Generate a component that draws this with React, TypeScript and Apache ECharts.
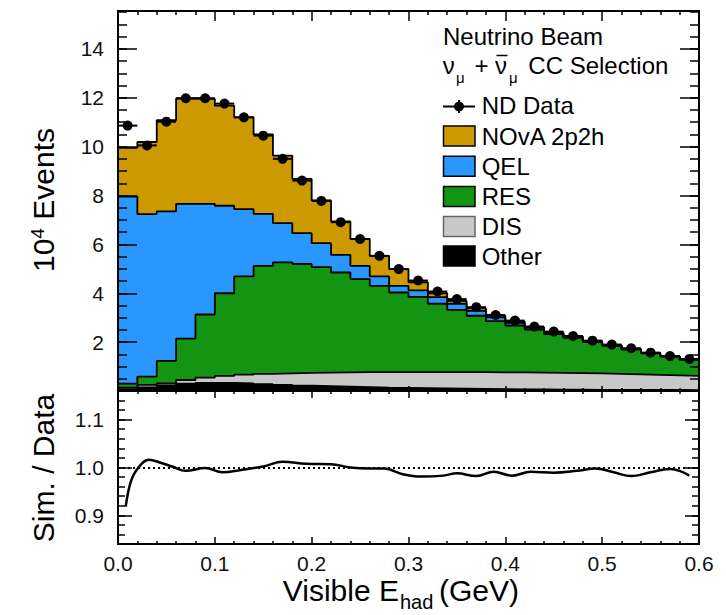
import React, { useEffect, useRef } from 'react';
import * as echarts from 'echarts';

// Bin centres of the visible hadronic energy histogram (GeV), 0.02 GeV wide bins
const binCenters = [
  0.01, 0.03, 0.05, 0.07, 0.09, 0.11, 0.13, 0.15, 0.17, 0.19,
  0.21, 0.23, 0.25, 0.27, 0.29, 0.31, 0.33, 0.35, 0.37, 0.39,
  0.41, 0.43, 0.45, 0.47, 0.49, 0.51, 0.53, 0.55, 0.57, 0.59,
];
const BIN_HALF = 0.01;

// ND data (10^4 events)
const ndData = [
  10.86, 10.05, 11.02, 11.98, 11.98, 11.76, 11.2, 10.45, 9.5, 8.61,
  7.78, 6.91, 6.22, 5.53, 4.99, 4.52, 4.07, 3.76, 3.43, 3.11,
  2.88, 2.64, 2.43, 2.25, 2.06, 1.9, 1.75, 1.57, 1.43, 1.31,
];

// Simulated interaction components (10^4 events), stacked bottom to top
const otherMC = [
  0.08, 0.15, 0.23, 0.3, 0.33, 0.33, 0.31, 0.28, 0.25, 0.22,
  0.2, 0.18, 0.16, 0.14, 0.13, 0.12, 0.11, 0.1, 0.09, 0.08,
  0.07, 0.07, 0.06, 0.06, 0.05, 0.05, 0.04, 0.04, 0.04, 0.03,
];
const disMC = [
  0.06, 0.1, 0.08, 0.15, 0.22, 0.29, 0.36, 0.42, 0.47, 0.52,
  0.55, 0.58, 0.61, 0.63, 0.64, 0.65, 0.66, 0.67, 0.68, 0.68,
  0.69, 0.68, 0.68, 0.67, 0.67, 0.65, 0.64, 0.62, 0.6, 0.59,
];
const resMC = [
  0.16, 0.34, 0.92, 1.69, 2.58, 3.38, 4.02, 4.42, 4.54, 4.46,
  4.32, 4.09, 3.81, 3.53, 3.26, 3.08, 2.8, 2.55, 2.31, 2.1,
  1.92, 1.76, 1.59, 1.44, 1.28, 1.15, 1.01, 0.88, 0.77, 0.66,
];
const qelMC = [
  7.65, 6.65, 6.12, 5.52, 4.53, 3.58, 2.75, 2.13, 1.61, 1.26,
  0.98, 0.72, 0.54, 0.39, 0.27, 0.27, 0.27, 0.25, 0.2, 0.15,
  0.11, 0.07, 0.05, 0.04, 0.03, 0.02, 0.02, 0.015, 0.01, 0.01,
];
const mecMC = [
  2.0, 2.95, 3.73, 4.31, 4.29, 4.1, 3.76, 3.25, 2.76, 2.22,
  1.75, 1.37, 1.1, 0.84, 0.69, 0.33, 0.16, 0.12, 0.1, 0.07,
  0.05, 0.03, 0.02, 0.02, 0.01, 0.01, 0.01, 0.005, 0.005, 0.005,
];

// Sim. / Data ratio curve
const ratioX = [
  0.008, 0.013, 0.02, 0.032, 0.044, 0.056, 0.07, 0.09, 0.108, 0.127,
  0.15, 0.17, 0.194, 0.22, 0.24, 0.26, 0.275, 0.294, 0.313, 0.336,
  0.35, 0.37, 0.388, 0.407, 0.426, 0.45, 0.474, 0.493, 0.512, 0.53,
  0.55, 0.57, 0.58, 0.59,
];
const ratioY = [
  0.918, 0.969, 0.997, 1.016, 1.01, 1.002, 0.993, 0.999, 0.99, 0.995,
  1.002, 1.012, 1.008, 1.007, 1.0, 0.998, 0.998, 0.986, 0.981, 0.983,
  0.988, 0.982, 0.991, 0.983, 0.991, 0.989, 0.993, 0.998, 0.99, 0.982,
  0.99, 0.997, 0.993, 0.983,
];

const xTickLabels = ['0.0', '0.1', '0.2', '0.3', '0.4', '0.5', '0.6'];
const yTopLabels = [2, 4, 6, 8, 10, 12, 14];
const yRatioLabels = ['0.9', '1.0', '1.1'];

const COLORS = {
  mec: '#cc9900',
  qel: '#2a97ff',
  res: '#139413',
  dis: '#c8c8c8',
  other: '#000000',
};

const FONT = "'Liberation Sans', Arial, Helvetica, sans-serif";

function cumulate(...layers: number[][]): number[] {
  return layers[0].map((_, i) => layers.reduce((s, l) => s + l[i], 0));
}

function stepPoints(vals: number[]): number[][] {
  const pts = binCenters.map((c, i) => [c - BIN_HALF, vals[i]]);
  const last = binCenters.length - 1;
  pts.push([binCenters[last] + BIN_HALF, vals[last]]);
  return pts;
}

const frameLine = { show: true, onZero: false, lineStyle: { color: '#000', width: 2 } };
const tickLine = { color: '#000', width: 1.5 };

function xAxis(gridIndex: number, position: string, labels: boolean, major: number, minor: number) {
  return {
    type: 'value', gridIndex, position, min: 0, max: 0.6, interval: 0.1, z: 10,
    axisLine: frameLine,
    axisTick: { show: true, inside: true, length: major, lineStyle: tickLine },
    minorTick: { show: true, splitNumber: 5, length: minor, lineStyle: tickLine },
    splitLine: { show: false },
    minorSplitLine: { show: false },
    axisLabel: labels
      ? {
          show: true, margin: 9, color: '#111', fontSize: 21, fontFamily: FONT,
          formatter: (v: number) => xTickLabels[Math.round(v * 10)] ?? '',
        }
      : { show: false },
  };
}

function yAxis(gridIndex: number, position: string, opts: any) {
  return {
    type: 'value', gridIndex, position, z: 10,
    axisLine: frameLine,
    splitLine: { show: false },
    minorSplitLine: { show: false },
    axisLabel: { show: false },
    ...opts,
  };
}

export default function App() {
  const ref = useRef<HTMLDivElement>(null);

  useEffect(() => {
    document.body.style.margin = '0';
    if (!ref.current) return;
    const chart = echarts.init(ref.current, undefined, { renderer: 'svg' });

    const cumOther = otherMC;
    const cumDis = cumulate(otherMC, disMC);
    const cumRes = cumulate(otherMC, disMC, resMC);
    const cumQel = cumulate(otherMC, disMC, resMC, qelMC);
    const cumAll = cumulate(otherMC, disMC, resMC, qelMC, mecMC);

    const stack = [
      { name: 'NOvA 2p2h', vals: cumAll, color: COLORS.mec },
      { name: 'QEL', vals: cumQel, color: COLORS.qel },
      { name: 'RES', vals: cumRes, color: COLORS.res },
      { name: 'DIS', vals: cumDis, color: COLORS.dis },
      { name: 'Other', vals: cumOther, color: COLORS.other },
    ];

    const TOP_MAX = 15.55;

    const topMajor = (position: string, labels: boolean) =>
      yAxis(0, position, {
        min: 0, max: TOP_MAX, interval: 2,
        axisTick: { show: true, inside: true, length: 19, lineStyle: tickLine },
        axisLabel: labels
          ? {
              show: true, margin: 14, color: '#111', fontSize: 21, fontFamily: FONT,
              formatter: (v: number) => (yTopLabels.includes(v) ? String(v) : ''),
            }
          : { show: false },
      });
    const topMinor = (position: string) =>
      yAxis(0, position, {
        min: 0, max: TOP_MAX, interval: 0.5,
        axisTick: { show: true, inside: true, length: 9, lineStyle: tickLine },
      });
    const ratioMajor = (position: string, labels: boolean) =>
      yAxis(1, position, {
        min: 0.84, max: 1.16, splitNumber: 3,
        axisTick: { show: true, inside: true, length: 14, lineStyle: tickLine },
        axisLabel: labels
          ? {
              show: true, margin: 14, color: '#111', fontSize: 21, fontFamily: FONT,
              showMinLabel: false, showMaxLabel: false,
              formatter: (v: number) => {
                const s = v.toFixed(1);
                return yRatioLabels.includes(s) && Math.abs(v - Number(s)) < 1e-6 ? s : '';
              },
            }
          : { show: false },
      });
    const ratioMinor = (position: string) =>
      yAxis(1, position, {
        min: 0.84, max: 1.16, interval: 0.02,
        axisTick: { show: true, inside: true, length: 7, lineStyle: tickLine },
      });

    const legendRows = [
      { label: 'NOvA 2p2h', color: COLORS.mec, stroke: '#000', y: 136 },
      { label: 'QEL', color: COLORS.qel, stroke: '#000', y: 166.3 },
      { label: 'RES', color: COLORS.res, stroke: '#000', y: 196.5 },
      { label: 'DIS', color: COLORS.dis, stroke: '#666', y: 226.5 },
      { label: 'Other', color: COLORS.other, stroke: '#000', y: 256 },
    ];

    const txt = (text: string, x: number, y: number, size: number, extra: any = {}) => ({
      type: 'text', x, y, silent: true,
      style: { text, fill: '#000', font: `${size}px ${FONT}`, align: 'left', verticalAlign: 'middle', ...extra },
    });

    const graphics: any[] = [
      // header
      txt('Neutrino Beam', 443, 36.5, 24),
      txt('ν', 442.7, 65, 24),
      txt('μ', 456, 77, 15),
      txt('+', 474.5, 65, 24),
      txt('ν', 495, 65, 24),
      { type: 'line', silent: true, shape: { x1: 496.5, y1: 55.5, x2: 507.5, y2: 55.5 }, style: { stroke: '#000', lineWidth: 1.5 } },
      txt('μ', 509, 77, 15),
      txt('CC Selection', 528.3, 65, 24),
      // data marker entry
      { type: 'line', silent: true, shape: { x1: 443, y1: 106.5, x2: 475, y2: 106.5 }, style: { stroke: '#000', lineWidth: 2 } },
      { type: 'line', silent: true, shape: { x1: 459, y1: 100, x2: 459, y2: 113 }, style: { stroke: '#000', lineWidth: 2 } },
      { type: 'circle', silent: true, shape: { cx: 459, cy: 106.5, r: 5 }, style: { fill: '#000' } },
      txt('ND Data', 481.7, 105, 24),
      // axis titles
      {
        type: 'text', x: 43, y: 200, rotation: Math.PI / 2, silent: true,
        style: {
          text: '{a|10}{b|4}{a| Events}', align: 'center', verticalAlign: 'middle', fill: '#000',
          rich: {
            a: { fontSize: 30, lineHeight: 30, verticalAlign: 'top', fontFamily: FONT, fill: '#000' },
            b: { fontSize: 19, lineHeight: 12, verticalAlign: 'top', fontFamily: FONT, fill: '#000' },
          },
        },
      },
      {
        type: 'text', x: 43, y: 468, rotation: Math.PI / 2, silent: true,
        style: { text: 'Sim. / Data', align: 'center', verticalAlign: 'middle', fill: '#000', font: `30px ${FONT}` },
      },
      txt('Visible E', 399, 590, 30, { align: 'right' }),
      txt('had', 400, 602, 20),
      txt('(GeV)', 439, 590, 30),
    ];
    legendRows.forEach((r) => {
      graphics.push({
        type: 'rect', silent: true,
        shape: { x: 443.5, y: r.y - 10, width: 31.5, height: 20 },
        style: { fill: r.color, stroke: r.stroke, lineWidth: 1.5 },
      });
      graphics.push(txt(r.label, 481.7, r.y, 24));
    });

    chart.setOption({
      animation: false,
      backgroundColor: '#fff',
      grid: [
        { left: 118, right: 27, top: 11, height: 380 },
        { left: 118, right: 27, top: 391, height: 153 },
      ],
      xAxis: [
        xAxis(0, 'bottom', false, 5, 3),
        xAxis(0, 'top', false, 10, 4),
        xAxis(1, 'bottom', true, 7, 3),
        xAxis(1, 'top', false, 7, 3),
      ],
      yAxis: [
        topMajor('left', true),
        topMinor('left'),
        topMajor('right', false),
        topMinor('right'),
        ratioMajor('left', true),
        ratioMinor('left'),
        ratioMajor('right', false),
        ratioMinor('right'),
      ],
      series: [
        ...stack.map((s) => ({
          name: s.name,
          type: 'line',
          xAxisIndex: 0,
          yAxisIndex: 0,
          step: 'end',
          symbol: 'none',
          data: stepPoints(s.vals),
          lineStyle: { color: '#000', width: 1.8 },
          areaStyle: { color: s.color, opacity: 1 },
          silent: true,
        })),
        {
          name: 'ND Data',
          type: 'custom',
          xAxisIndex: 0,
          yAxisIndex: 0,
          z: 6,
          encode: { x: 0, y: 1 },
          data: binCenters.map((c, i) => [c, ndData[i]]),
          renderItem: (_params: any, api: any) => {
            const x = api.value(0);
            const y = api.value(1);
            const p = api.coord([x, y]);
            const l = api.coord([x - BIN_HALF, y]);
            const r = api.coord([x + BIN_HALF, y]);
            return {
              type: 'group',
              children: [
                { type: 'line', shape: { x1: l[0], y1: l[1], x2: r[0], y2: r[1] }, style: { stroke: '#000', lineWidth: 2 } },
                { type: 'circle', shape: { cx: p[0], cy: p[1], r: 5 }, style: { fill: '#000' } },
              ],
            };
          },
        },
        {
          name: 'Sim. / Data',
          type: 'line',
          xAxisIndex: 2,
          yAxisIndex: 4,
          smooth: 0.4,
          symbol: 'none',
          data: ratioX.map((x, i) => [x, ratioY[i]]),
          lineStyle: { color: '#000', width: 2.5 },
          markLine: {
            silent: true,
            symbol: 'none',
            label: { show: false },
            lineStyle: { color: '#000', width: 2, type: [2, 3] },
            data: [{ yAxis: 1 }],
          },
        },
      ],
      graphic: graphics,
    });

    return () => chart.dispose();
  }, []);

  return <div ref={ref} style={{ width: 726, height: 615 }} />;
}
